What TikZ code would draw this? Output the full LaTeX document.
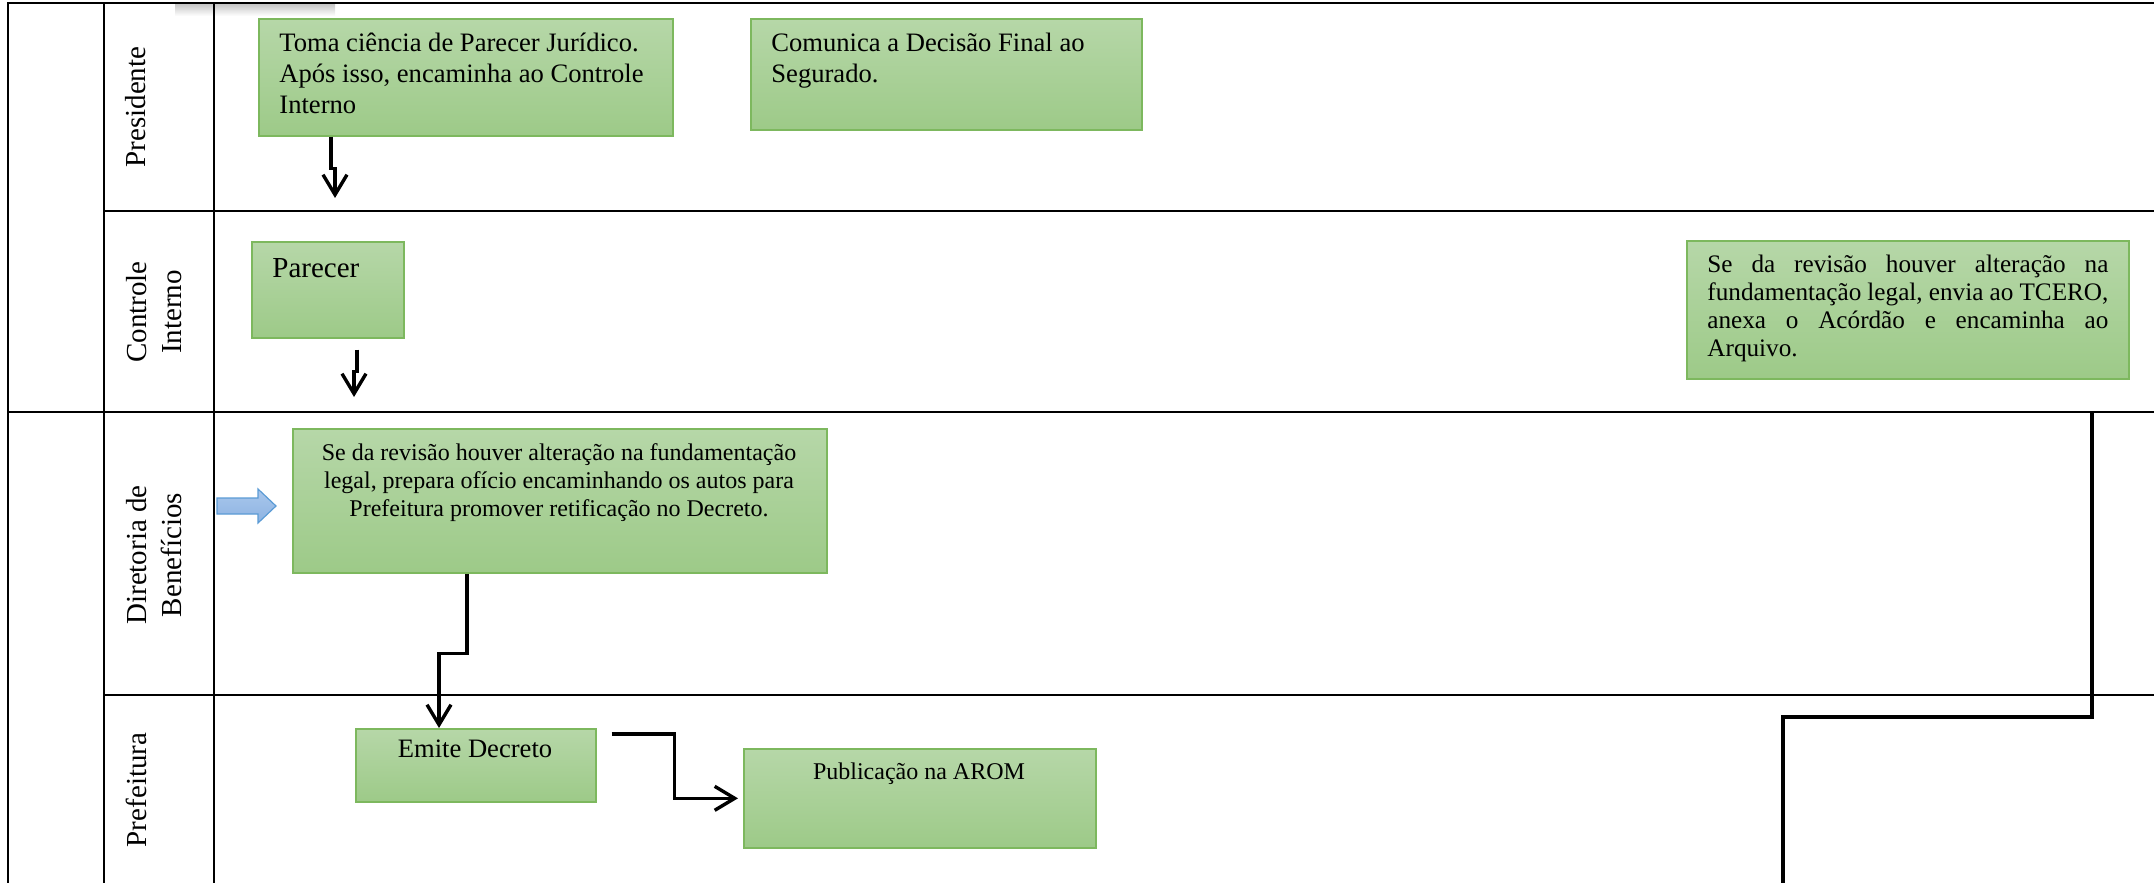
\documentclass[tikz,border=0pt]{standalone}
\usepackage{fontspec}
\setmainfont{Liberation Serif}
\usetikzlibrary{arrows.meta}

\definecolor{boxtop}{HTML}{B6D7A8}
\definecolor{boxbot}{HTML}{9DCA88}
\definecolor{boxedge}{HTML}{7DB85E}
\definecolor{arrowtop}{HTML}{A9C7EC}
\definecolor{arrowbot}{HTML}{8DB3E2}
\definecolor{arrowedge}{HTML}{5B9BD5}

\begin{document}
\begin{tikzpicture}[x=0.5pt,y=-0.5pt,
  lane/.style={line width=1.4pt},
  greenbox/.style={draw=boxedge,line width=0.8pt,top color=boxtop,bottom color=boxbot,inner sep=0pt,anchor=north west},
  boxtext/.style={inner sep=0pt,anchor=north west,align=left},
  lanelabel/.style={rotate=90,align=center,inner sep=0pt,font=\fontsize{14.5}{17.5}\selectfont},
  flow/.style={line width=1.7pt,-{Straight Barb[length=10pt,width=12pt]}}
]

\useasboundingbox (0,0) rectangle (2154,883);

% Shadow
\shade[top color=black!22,bottom color=white] (175,4) rectangle (335,16);

% Lanes
\draw[lane] (8,883) -- (8,3) -- (2154,3);
\draw[lane] (104,3) -- (104,883);
\draw[lane] (214,3) -- (214,883);
\draw[lane] (104,211) -- (2154,211);
\draw[lane] (8,412) -- (2154,412);
\draw[lane] (104,695) -- (2154,695);

% Lane labels
\node[lanelabel] (presidente) at (136,107) {Presidente};
\node[lanelabel] (controle) at (154,312) {Controle\\Interno};
\node[lanelabel] (diretoria) at (154,555) {Diretoria de\\Benefícios};
\node[lanelabel] (prefeitura) at (136,790) {Prefeitura};

% Presidente
\node[greenbox,minimum width=207pt,minimum height=58.5pt] (toma) at (258,18) {};
\node[boxtext,font=\fontsize{13.3}{15.5}\selectfont] (tomatxt) at (279,33)
  {Toma ciência de Parecer Jurídico.\\Após isso, encaminha ao Controle\\Interno};
\node[greenbox,minimum width=195.5pt,minimum height=55.5pt] (comunica) at (750,18) {};
\node[boxtext,font=\fontsize{13.3}{15.5}\selectfont] (comunicatxt) at (771,33)
  {Comunica a Decisão Final ao\\Segurado.};

% Controle Interno
\node[greenbox,minimum width=76pt,minimum height=48pt] (parecer) at (251,241) {};
\node[anchor=base west,inner sep=0pt,font=\fontsize{14.5}{17}\selectfont] (parecertxt) at (272,278) {Parecer};
\node[greenbox,minimum width=221pt,minimum height=69pt] (tcero) at (1686,240) {};
\node[boxtext,font=\fontsize{12.6}{14}\selectfont] (tcerotxt) at (1707,255)
  {\makebox[200.5pt][s]{Se da revisão houver alteração na}\\
   \makebox[200.5pt][s]{fundamentação legal, envia ao TCERO,}\\
   \makebox[200.5pt][s]{anexa o Acórdão e encaminha ao}\\
   Arquivo.};

% Diretoria de Beneficios
\shadedraw[top color=arrowtop,bottom color=arrowbot,draw=arrowedge,line width=0.6pt]
  (217,498) -- (258,498) -- (258,489) -- (276,506) -- (258,523) -- (258,514) -- (217,514) -- cycle;
\node[greenbox,minimum width=267pt,minimum height=72pt] (oficio) at (292,428) {};
\node[inner sep=0pt,anchor=north,align=center,font=\fontsize{12}{14}\selectfont] (oficiotxt) at (559,443)
  {Se da revisão houver alteração na fundamentação\\legal, prepara ofício encaminhando os autos para\\Prefeitura promover retificação no Decreto.};

% Prefeitura
\node[greenbox,minimum width=120pt,minimum height=36.5pt] (emite) at (355,728) {};
\node[anchor=base,inner sep=0pt,font=\fontsize{13.3}{15.5}\selectfont] (emitetxt) at (475,757) {Emite Decreto};
\node[greenbox,minimum width=176pt,minimum height=49.5pt] (arom) at (743,748) {};
\node[anchor=base,inner sep=0pt,font=\fontsize{12}{14}\selectfont] (aromtxt) at (919,779) {Publicação na AROM};

% Flow
\coordinate (tomaend) at (335,198);
\coordinate (parecerend) at (354,397);
\draw[flow] ([xshift=36.5pt]toma.south west) -- ++(0,32) -| (tomaend);
\draw[flow] ([xshift=53pt,yshift=-5.5pt]parecer.south west) -- ++(0,22) -| (parecerend);
\draw[flow] ([xshift=87.5pt]oficio.south west) -- ++(0,80) -| ([xshift=42pt]emite.north west);
\draw[flow] ([xshift=7.5pt,yshift=-3pt]emite.north east) -- ++(63,0) |- ([xshift=-2.5pt]arom.west);

% TCERO line
\coordinate (tcerostart) at (2092,412);
\coordinate (tceroend) at (1783,883);
\draw[line width=2.2pt] (tcerostart) -- ++(0,305) -| (tceroend);

\end{tikzpicture}
\end{document}
